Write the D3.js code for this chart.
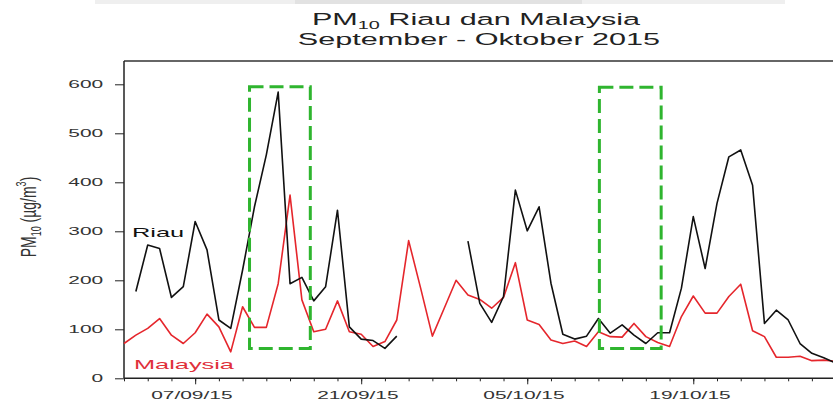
<!DOCTYPE html>
<head>
	<meta charset="utf-8">
	<title>PM10 Riau dan Malaysia</title>
	<style>
	body { margin: 0; background: #fff; }
	text { font-family: "Liberation Sans", Arial, sans-serif; }
	.line { fill: none; stroke-width: 1.6; stroke-linejoin: round; }
	.axis path, .axis line { stroke: #222; }
	.axis text { fill: #333; font-size: 11px; }
	</style>
</head>
<body>
<script src="https://cdn.jsdelivr.net/npm/d3@7"></script>
<script>

var width = 833, height = 403

// daily values, 01/09/2015 .. 31/10/2015 (null = no data)
var riau = [null, 177, 272, 265, 165, 187, 320, 262, 119, 102,
	221, 350, 456, 584, 193, 206, 158, 187, 343, 105,
	80, 77, 61, 86, null, null, null, null, null, 280,
	153, 114, 167, 384, 301, 350, 194, 90, 80, 86,
	122, 92, 109, 88, 71, 93, 93, 184, 330, 224,
	357, 452, 466, 394, 112, 139, 119, 71, 51, 42, 31];

var malaysia = [71, 88, 102, 122, 88, 71, 93, 131, 105, 54,
	146, 104, 104, 193, 374, 160, 95, 100, 158, 95,
	90, 65, 75, 119, 281, 185, 86, 143, 200, 170,
	161, 143, 165, 236, 119, 110, 78, 71, 76, 65,
	95, 85, 84, 112, 85, 73, 65, 126, 168, 133,
	133, 167, 192, 97, 85, 43, 43, 45, 36, 37, 35];

var dates = d3.utcDay.range(new Date(Date.UTC(2015, 8, 1)), new Date(Date.UTC(2015, 10, 1)));
var majorTicks = ["2015-09-07", "2015-09-21", "2015-10-05", "2015-10-19"];
var yTicks = [0, 100, 200, 300, 400, 500, 600];

// dashed highlight boxes: time span and value span
var boxStart = ["2015-09-11T14:00:00Z", "2015-10-11T02:00:00Z"];
var boxEnd = ["2015-09-16T17:00:00Z", "2015-10-16T07:00:00Z"];
var boxLow = [61, 61];
var boxHigh = [595, 594];

var sx = 1.9; // the picture is stretched sideways

var svg = d3.select("body")
	.append("svg")
	.attr("width", width)
	.attr("height", height);

// faint bar at the very top
svg.append("rect").attr("x", 95).attr("y", 0).attr("width", 690).attr("height", 4).attr("fill", "#efefef");
svg.append("rect").attr("x", 295).attr("y", 0).attr("width", 287).attr("height", 4).attr("fill", "#e2e2e2");

var x = d3.scaleUtc()
	.domain([dates[0], dates[dates.length - 1]])
	.range([124, 835.6]);

var y = d3.scaleLinear()
	.domain([0, 600])
	.range([378.3, 84.3]);

var plotTop = 61;

// frame
svg.append("line").attr("x1", 124).attr("x2", width).attr("y1", plotTop).attr("y2", plotTop)
	.attr("stroke", "#333").attr("stroke-width", 1.5);

// y axis
var yAxis = svg.append("g")
	.attr("class", "axis")
	.attr("transform", "translate(124,0)")
	.call(d3.axisLeft(y).tickValues(yTicks).tickSize(9).tickSizeOuter(0));
yAxis.select(".domain").attr("d", "M0," + plotTop + "V" + y(0)).attr("stroke-width", 1.5);
yAxis.selectAll("text")
	.attr("x", -11)
	.attr("transform", "scale(" + sx + ",1)");

// x axis, minor ticks every 2 days
var minor = dates.filter(function(d, i) { return i % 2 == 0; });
var xMinor = svg.append("g")
	.attr("class", "axis")
	.attr("transform", "translate(0," + y(0) + ")")
	.call(d3.axisBottom(x).tickValues(minor).tickSize(3).tickSizeOuter(0).tickFormat(""));
xMinor.select(".domain").attr("d", "M124,0H" + width).attr("stroke-width", 1.5);

var xMajor = svg.append("g")
	.attr("class", "axis")
	.attr("transform", "translate(0," + y(0) + ")")
	.call(d3.axisBottom(x)
		.tickValues(majorTicks.map(function(d) { return d3.isoParse(d + "T00:00:00Z"); }))
		.tickSize(6)
		.tickFormat(d3.utcFormat("%d/%m/%y")));
xMajor.select(".domain").remove();
xMajor.selectAll("text")
	.attr("y", 13)
	.attr("x", -2)
	.attr("transform", "scale(" + sx + ",1)");

// lines
var line = d3.line()
	.defined(function(d) { return d[1] != null; })
	.x(function(d) { return x(d[0]); })
	.y(function(d) { return y(d[1]); });

svg.append("path")
	.datum(dates.map(function(d, i) { return [d, malaysia[i]]; }))
	.attr("class", "line")
	.attr("stroke", "#e5262c")
	.attr("d", line);

svg.append("path")
	.datum(dates.map(function(d, i) { return [d, riau[i]]; }))
	.attr("class", "line")
	.attr("stroke", "#111")
	.attr("d", line);

// dashed boxes
boxStart.forEach(function(s, i) {
	var x0 = x(d3.isoParse(s)), x1 = x(d3.isoParse(boxEnd[i]));
	svg.append("rect")
		.attr("x", x0)
		.attr("y", y(boxHigh[i]))
		.attr("width", x1 - x0)
		.attr("height", y(boxLow[i]) - y(boxHigh[i]))
		.attr("fill", "none")
		.attr("stroke", "#2fb52f")
		.attr("stroke-width", 3)
		.attr("stroke-dasharray", "14,6");
});

// stretched text helper
function label(px, py, sxx, anchor) {
	return svg.append("g")
		.attr("transform", "translate(" + px + "," + py + ") scale(" + sxx + ",1)")
		.append("text")
		.attr("text-anchor", anchor);
}

label(132, 237, 1.95, "start").attr("font-size", 13).attr("fill", "#111").text("Riau");
label(134, 368.5, 1.95, "start").attr("font-size", 13).attr("fill", "#e0303a").text("Malaysia");

// title
var t1 = label(476, 25, 1.8, "middle").attr("font-size", 17).attr("fill", "#222");
t1.append("tspan").text("PM");
t1.append("tspan").attr("font-size", 11).attr("dy", 4).text("10");
t1.append("tspan").attr("dy", -4).text(" Riau dan Malaysia");
label(479, 45, 1.8, "middle").attr("font-size", 17).attr("fill", "#222").text("September - Oktober 2015");

// y label
var yl = svg.append("g")
	.attr("transform", "translate(36,217) rotate(-90) scale(1,1.6)")
	.append("text")
	.attr("text-anchor", "middle")
	.attr("font-size", 14)
	.attr("fill", "#333");
yl.append("tspan").text("PM");
yl.append("tspan").attr("font-size", 9).attr("dy", 3).text("10");
yl.append("tspan").attr("dy", -3).text(" (\u00b5g/m");
yl.append("tspan").attr("font-size", 9).attr("dy", -6).text("3");
yl.append("tspan").attr("dy", 6).text(")");

</script>
